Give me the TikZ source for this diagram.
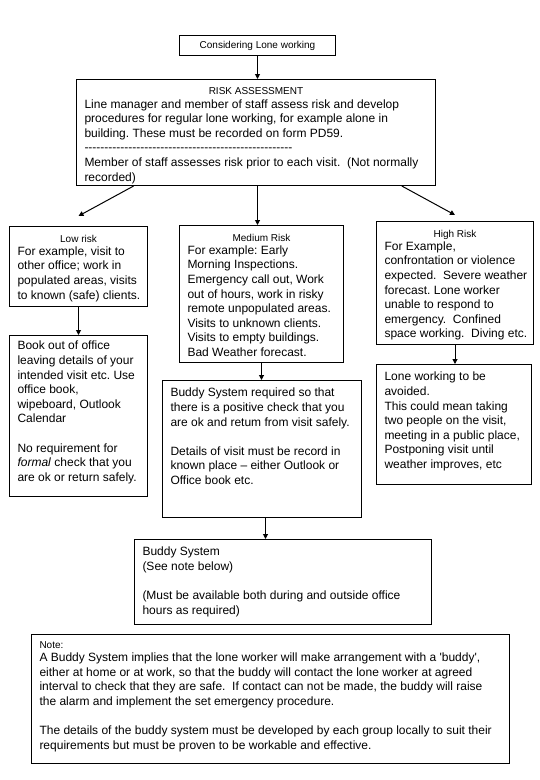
\documentclass[tikz,border=0pt]{standalone}
\usepackage{fontspec}
\setmainfont{Liberation Sans}
\usetikzlibrary{arrows.meta,calc}

\newcommand\bodyfont{\fontsize{12}{14.6}\selectfont}
\newcommand\titlefont{\fontsize{10}{12}\selectfont}
\newcommand\boxtitle[1]{{\centering\titlefont #1\par}\vspace{-1.5pt}}
\newcommand\flowtext[4][4pt]{\parbox[c][#3pt][t]{#2pt}{\bodyfont\frenchspacing\vspace*{#1}\leftskip=8pt\rightskip=0pt plus 1fil\relax #4}}
\newcommand\dashrow{\foreach \x in {1,...,52}{\hbox{-}}}

\tikzset{
  flowbox/.style={draw,line width=1pt,anchor=north west,inner sep=0pt},
  flowarrow/.style={line width=1pt,-{Triangle[length=5pt,width=5pt]}},
}

\begin{document}
\begin{tikzpicture}[x=1pt,y=-1pt]
\useasboundingbox (0,0) rectangle (540,780);

\node (start) [flowbox,minimum width=156pt,minimum height=20pt,font=\titlefont] at (179,35) {Considering Lone working};

\node (risk) [flowbox] at (76,79) {\flowtext[8.5pt]{359}{106}{\boxtitle{RISK ASSESSMENT}
Line manager and member of staff assess risk and develop\\
procedures for regular lone working, for example alone in\\
building. These must be recorded on form PD59.\\
\dashrow\\
Member of staff assesses risk prior to each visit.\ \ (Not normally\\
recorded)}};

\node (low) [flowbox] at (9,226) {\flowtext[8.5pt]{138}{80}{\boxtitle{Low risk}
For example, visit to\\
other office; work in\\
populated areas, visits\\
to known (safe) clients.}};

\node (book) [flowbox] at (9,335) {\flowtext[5.7pt]{138}{161}{Book out of office\\
leaving details of your\\
intended visit etc. Use\\
office book,\\
wipeboard, Outlook\\
Calendar\\
\mbox{}\\
No requirement for\\
\textit{formal} check that you\\
are ok or return safely.}};

\node (medium) [flowbox] at (179,225) {\flowtext[8.5pt]{164}{137}{\boxtitle{Medium Risk}
For example: Early\\
Morning Inspections.\\
Emergency call out, Work\\
out of hours, work in risky\\
remote unpopulated areas.\\
Visits to unknown clients.\\
Visits to empty buildings.\\
Bad Weather forecast.}};

\node (buddyreq) [flowbox] at (162,380) {\flowtext[7.7pt]{199}{137}{Buddy System required so that\\
there is a positive check that you\\
are ok and retum from visit safely.\\
\mbox{}\\
Details of visit must be record in\\
known place -- either Outlook or\\
Office book etc.}};

\node (high) [flowbox] at (376,221) {\flowtext[8.5pt]{157}{123}{\boxtitle{High Risk}
For Example,\\
confrontation or violence\\
expected.\ \ Severe weather\\
forecast. Lone worker\\
unable to respond to\\
emergency.\ \ Confined\\
space working.\ \ Diving etc.}};

\node (avoid) [flowbox] at (376,364) {\flowtext[7.7pt]{155}{120}{Lone working to be\\
avoided.\\
This could mean taking\\
two people on the visit,\\
meeting in a public place,\\
Postponing visit until\\
weather improves, etc}};

\node (buddy) [flowbox] at (134,539) {\flowtext[7.7pt]{297}{85}{Buddy System\\
(See note below)\\
\mbox{}\\
(Must be available both during and outside office\\
hours as required)}};

\node (note) [flowbox] at (31,634) {\flowtext[7pt]{478}{129}{{\titlefont Note:\par}\vspace{-1.5pt}
A Buddy System implies that the lone worker will make arrangement with a \textquotesingle buddy\textquotesingle,\\
either at home or at work, so that the buddy will contact the lone worker at agreed\\
interval to check that they are safe.\ \ If contact can not be made, the buddy will raise\\
the alarm and implement the set emergency procedure.\\
\mbox{}\\
The details of the buddy system must be developed by each group locally to suit their\\
requirements but must be proven to be workable and effective.}};

% connectors
\draw[flowarrow] (start.south) -- (start.south |- risk.north);
\draw[flowarrow] ($(risk.south west)!0.16!(risk.south east)$) -- ($(low.north)+(0,-10)$);
\draw[flowarrow] (start.south |- risk.south) -- (start.south |- medium.north);
\draw[flowarrow] ($(risk.south west)!0.905!(risk.south east)$) -- ($(high.north)+(0,-6)$);
\draw[flowarrow] (low.south) -- (book.north);
\draw[flowarrow] (medium.south) -- (medium.south |- buddyreq.north);
\draw[flowarrow] (high.south) -- (high.south |- avoid.north);
\draw[flowarrow] ($(buddyreq.south)+(3.5,0)$) -- ($(buddyreq.south |- buddy.north)+(3.5,0)$);
\end{tikzpicture}
\end{document}
